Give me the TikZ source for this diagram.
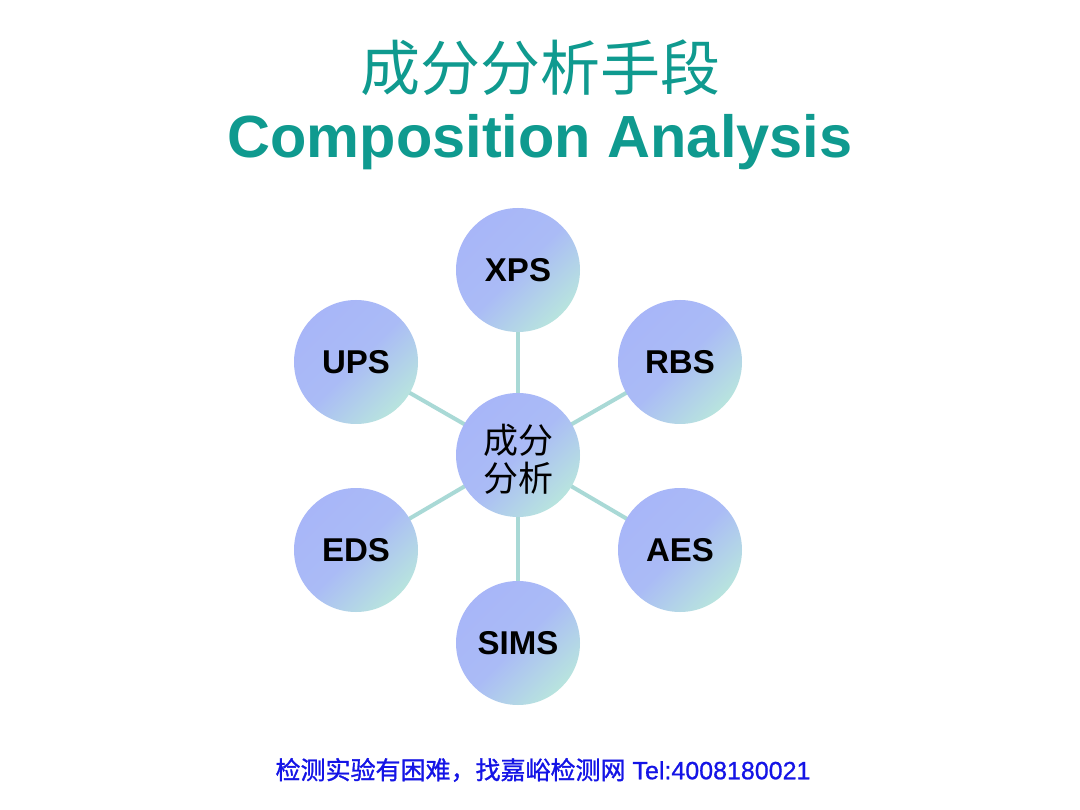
\documentclass[tikz,border=0pt]{standalone}
\usepackage{fontspec}
\setmainfont{Liberation Sans}
\newfontfamily\cjk{Noto Sans CJK SC}
\newfontfamily\cjkfoot[FakeBold=1.2]{Noto Sans CJK SC}
\newfontfamily\latfoot[FakeBold=0.8]{Liberation Sans}
\usetikzlibrary{backgrounds}
\definecolor{titleteal}{HTML}{0F9A8F}
\definecolor{footblue}{HTML}{1414E6}
\definecolor{cblue}{HTML}{A8B6F8}
\definecolor{cmid}{HTML}{AABBF6}
\definecolor{cteal}{HTML}{B8E4DE}
\definecolor{linkcol}{HTML}{A9D9D6}
\tikzset{
  ball/.style={circle, minimum size=124pt, inner sep=0pt,
    top color=cblue, bottom color=cteal, middle color=cmid, shading angle=45,
    font=\fontsize{33}{36}\selectfont\bfseries, text=black},
  link/.style={draw=linkcol, line width=4pt}
}
\begin{document}
\begin{tikzpicture}[x=1pt,y=-1pt]
\useasboundingbox (0,0) rectangle (1080,810);
\node[text=titleteal, font=\cjk\fontsize{60}{62}\selectfont] (t1) at (540,68) {成分分析手段};
\node[text=titleteal, font=\fontsize{59.5}{62}\selectfont\bfseries] (t2) at (540,142) {Composition Analysis};
\node[ball] (c) at (518,455) {};
\node[ball] (xps) at (518,270) {XPS};
\node[ball] (ups) at (356,362) {UPS};
\node[ball] (rbs) at (680,362) {RBS};
\node[ball] (eds) at (356,550) {EDS};
\node[ball] (aes) at (680,550) {AES};
\node[ball] (sims) at (518,643) {SIMS};
\begin{pgfonlayer}{background}
\path[fill=white] (0,0) rectangle (1080,810);
\draw[link] (c.center) -- (xps.center);
\draw[link] (c.center) -- (ups.center);
\draw[link] (c.center) -- (rbs.center);
\draw[link] (c.center) -- (eds.center);
\draw[link] (c.center) -- (aes.center);
\draw[link] (c.center) -- (sims.center);
\end{pgfonlayer}
\node[font=\cjk\fontsize{35}{38}\selectfont, align=center, text=black] (ct) at (518,459) {成分\\分析};
\node[text=footblue, font=\fontsize{25}{28}\selectfont] (ft) at (543,770) {{\cjkfoot 检测实验有困难，找嘉峪检测网} {\latfoot Tel:4008180021}};
\end{tikzpicture}
\end{document}
